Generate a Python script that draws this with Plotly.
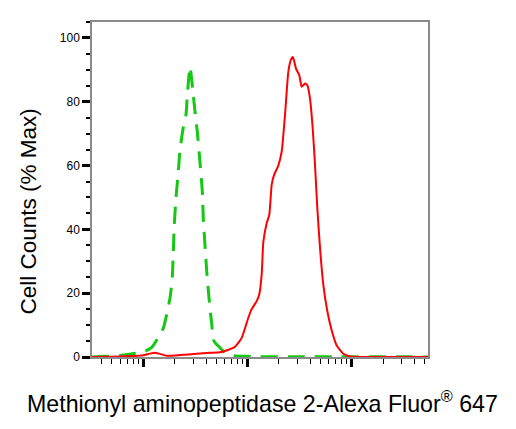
import plotly.graph_objects as go

# Fluorescence intensity (arbitrary units, log axis) and % max counts
control_x = [3.22, 4.29, 5.98, 7.79, 9.93, 12.04, 13.84, 15.56, 18.04, 18.98, 19.41, 19.84,
             20.60, 21.67, 22.50, 24.21, 25.70, 26.45, 28.07, 30.18, 31.34, 32.97, 35.00,
             36.83, 37.65, 39.09, 40.59, 42.70, 45.34, 47.70, 52.12, 60.83, 71.01, 94.6,
             131.8, 319, 772, 2908, 5398]
control_y = [0, 0.2, 0.5, 1.0, 1.5, 3, 6, 9, 18.5, 25, 33, 41.5,
             50, 58, 65, 72, 76, 82, 91, 82, 77, 70.6, 61,
             52, 43.5, 35, 27, 18.5, 10.3, 5, 3.5, 1.4, 0.5, 0.2,
             0.1, 0.1, 0.1, 0.1, 0]

sample_x = [3.22, 4.79, 7.46, 9.65, 12.95, 16.77, 22.50, 32.54, 43.67, 54.46, 65.02, 75.86,
            87.98, 101.8, 109.7, 122.5, 129.8, 136.9, 141.8, 152.9, 161.9, 170.7, 179.6,
            197.5, 212.9, 229.0, 246.4, 259.8, 271.5, 279.5, 292.1, 314.2, 331.3, 356.3,
            374.9, 397.9, 422.4, 444.5, 467.7, 496.4, 533.9, 583.2, 642.9, 717.8, 830.6,
            963.2, 1201, 5398]
sample_y = [0, 0.1, 0.3, 0.5, 1.3, 0.4, 0.6, 1.0, 1.3, 1.5, 2.2, 3.2,
            6, 12.3, 15, 17.5, 19.7, 26, 36, 42, 44.6, 54, 57,
            60, 64.4, 75.8, 89.4, 93, 94, 93, 90.4, 88.3, 84.7, 85.7,
            85.2, 81, 71.7, 60.2, 46.7, 34.2, 22.7, 14.4, 8.3, 3.6, 1,
            0.2, 0, 0]

major_x = [10, 100, 1000]
minor_x = [m * d for d in (1, 10, 100, 1000) for m in range(2, 10)]
y_ticks = [0, 20, 40, 60, 80, 100]

x_title = "Methionyl aminopeptidase 2-Alexa Fluor<sup>®</sup> 647"
y_title = "Cell Counts (% Max)"

fig = go.Figure()
fig.add_trace(go.Scatter(x=control_x, y=control_y, mode="lines",
                         line=dict(color="#14c814", width=3, dash="17px,10px", shape="spline", smoothing=0.5),
                         hoverinfo="skip", showlegend=False))
fig.add_trace(go.Scatter(x=sample_x, y=sample_y, mode="lines",
                         line=dict(color="#ff0000", width=2, shape="spline", smoothing=0.5),
                         hoverinfo="skip", showlegend=False))

font = "Liberation Sans, Arial, sans-serif"
fig.update_layout(
    width=508, height=421,
    margin=dict(l=84, r=88, t=12, b=72),
    paper_bgcolor="white", plot_bgcolor="white",
    font=dict(family=font, color="black"),
    xaxis=dict(type="log", range=[0.5077, 3.7322], showgrid=False, zeroline=False,
               showline=True, mirror=True, linecolor="#8a8a8a", linewidth=1.5,
               tickmode="array", tickvals=major_x, showticklabels=False,
               ticks="outside", ticklen=8, tickwidth=3, tickcolor="black",
               minor=dict(tickmode="array", tickvals=minor_x, ticks="outside",
                          ticklen=5, tickwidth=1.2, tickcolor="black", showgrid=False)),
    yaxis=dict(range=[0, 105], showgrid=False, zeroline=False,
               showline=True, mirror=True, linecolor="#8a8a8a", linewidth=1.5,
               tickmode="array", tickvals=y_ticks,
               ticks="outside", ticklen=8, tickwidth=3, tickcolor="black",
               tickfont=dict(size=12, family=font),
               minor=dict(dtick=5, ticks="outside", ticklen=4, tickwidth=1.5,
                          tickcolor="black", showgrid=False)),
    annotations=[
        dict(text=x_title, xref="paper", yref="paper", x=0.506, y=-0.1345,
             xanchor="center", yanchor="middle", showarrow=False,
             font=dict(size=23.2, family=font)),
        dict(text=y_title, xref="paper", yref="paper", x=-0.19, y=0.435,
             xanchor="center", yanchor="middle", textangle=-90, showarrow=False,
             font=dict(size=22.5, family=font)),
    ],
)

fig.write_html("out.html")
